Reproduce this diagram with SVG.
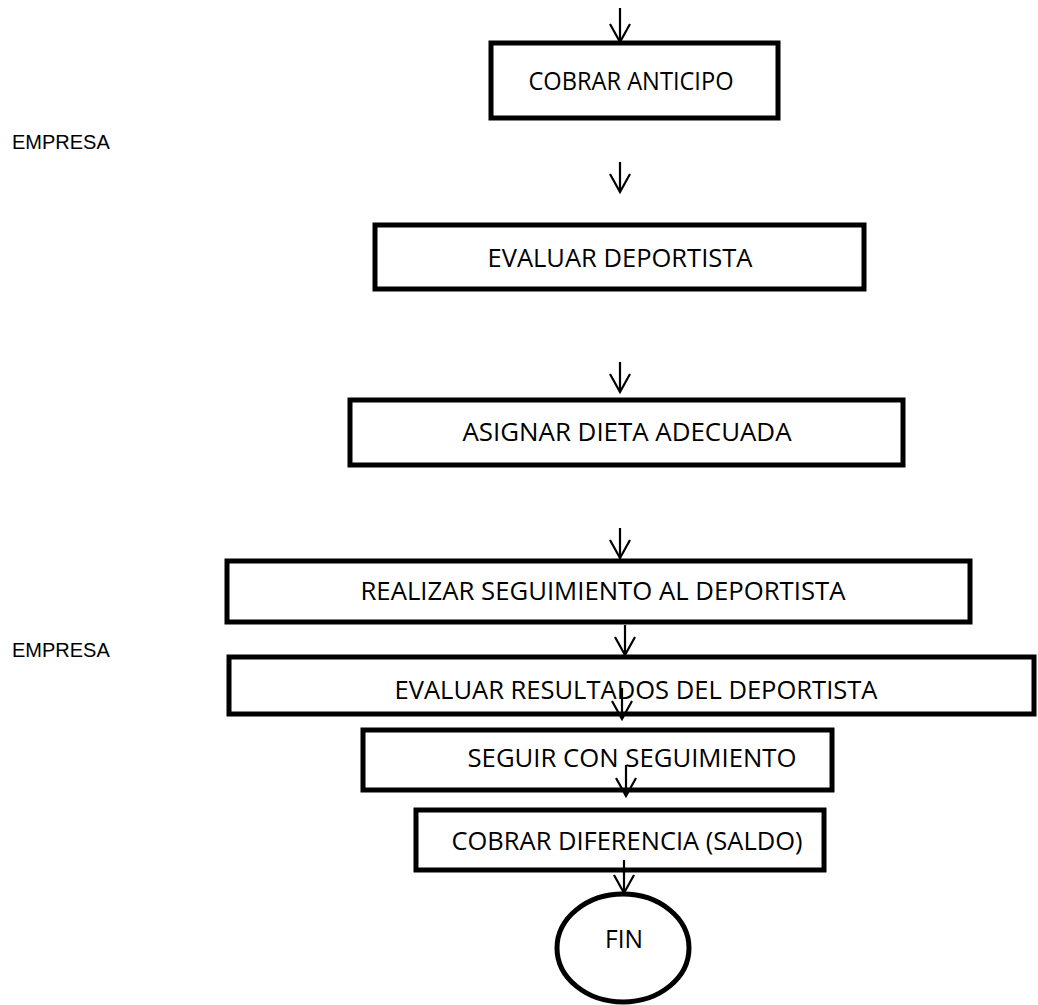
<svg xmlns="http://www.w3.org/2000/svg" width="1038" height="1005" viewBox="0 0 1038 1005">
<style>
.box{fill:#fff;stroke:#000;stroke-width:5}
.lbl{font-family:"Open Sans","Noto Sans",sans-serif;font-size:25px;fill:#000;text-anchor:middle}
.side{font-family:"Liberation Sans",Arial,sans-serif;font-size:20px;fill:#000}
.arr{fill:none;stroke:#000;stroke-width:2.2;marker-end:url(#ah)}
</style>
<defs>
<marker id="ah" viewBox="-2 -12 22 24" refX="18" refY="0" markerWidth="22" markerHeight="24" markerUnits="userSpaceOnUse" orient="auto">
<path d="M0,-10 L18,0 L0,10" fill="none" stroke="#000" stroke-width="2.2"/>
</marker>
</defs>
<rect width="1038" height="1005" fill="#fff"/>
<text class="side" x="12" y="149">EMPRESA</text>
<text class="side" x="12" y="657">EMPRESA</text>
<g id="n1"><rect class="box" x="491" y="43" width="287" height="75"/><text class="lbl" x="631" y="90" textLength="205" lengthAdjust="spacingAndGlyphs">COBRAR ANTICIPO</text></g>
<g id="n2"><rect class="box" x="375" y="225" width="489" height="64"/><text class="lbl" x="620" y="267" textLength="265" lengthAdjust="spacingAndGlyphs">EVALUAR DEPORTISTA</text></g>
<g id="n3"><rect class="box" x="350" y="400" width="553" height="65"/><text class="lbl" x="627" y="441" textLength="329" lengthAdjust="spacingAndGlyphs">ASIGNAR DIETA ADECUADA</text></g>
<g id="n4"><rect class="box" x="227" y="561" width="743" height="61"/><text class="lbl" x="603" y="600" textLength="485" lengthAdjust="spacingAndGlyphs">REALIZAR SEGUIMIENTO AL DEPORTISTA</text></g>
<g id="n5"><rect class="box" x="229" y="657" width="805" height="57"/><text class="lbl" x="636" y="699" textLength="483" lengthAdjust="spacingAndGlyphs">EVALUAR RESULTADOS DEL DEPORTISTA</text></g>
<g id="n6"><rect class="box" x="363" y="730" width="469" height="60"/><text class="lbl" x="632" y="767" textLength="329" lengthAdjust="spacingAndGlyphs">SEGUIR CON SEGUIMIENTO</text></g>
<g id="n7"><rect class="box" x="416" y="810" width="408" height="60"/><text class="lbl" x="627" y="850" textLength="351" lengthAdjust="spacingAndGlyphs">COBRAR DIFERENCIA (SALDO)</text></g>
<g id="n8"><ellipse cx="623" cy="948" rx="66" ry="54" fill="#fff" stroke="#000" stroke-width="5"/><text class="lbl" x="624" y="948" textLength="38" lengthAdjust="spacingAndGlyphs">FIN</text></g>
<g id="connectors">
<path class="arr" d="M620,8 V42"/>
<path class="arr" d="M620,162 V192"/>
<path class="arr" d="M620,362 V392"/>
<path class="arr" d="M620,528 V558"/>
<path class="arr" d="M625,625 V655"/>
<path class="arr" d="M622,688 V719"/>
<path class="arr" d="M626,765 V796"/>
<path class="arr" d="M624,860 V893"/>
</g>
</svg>
